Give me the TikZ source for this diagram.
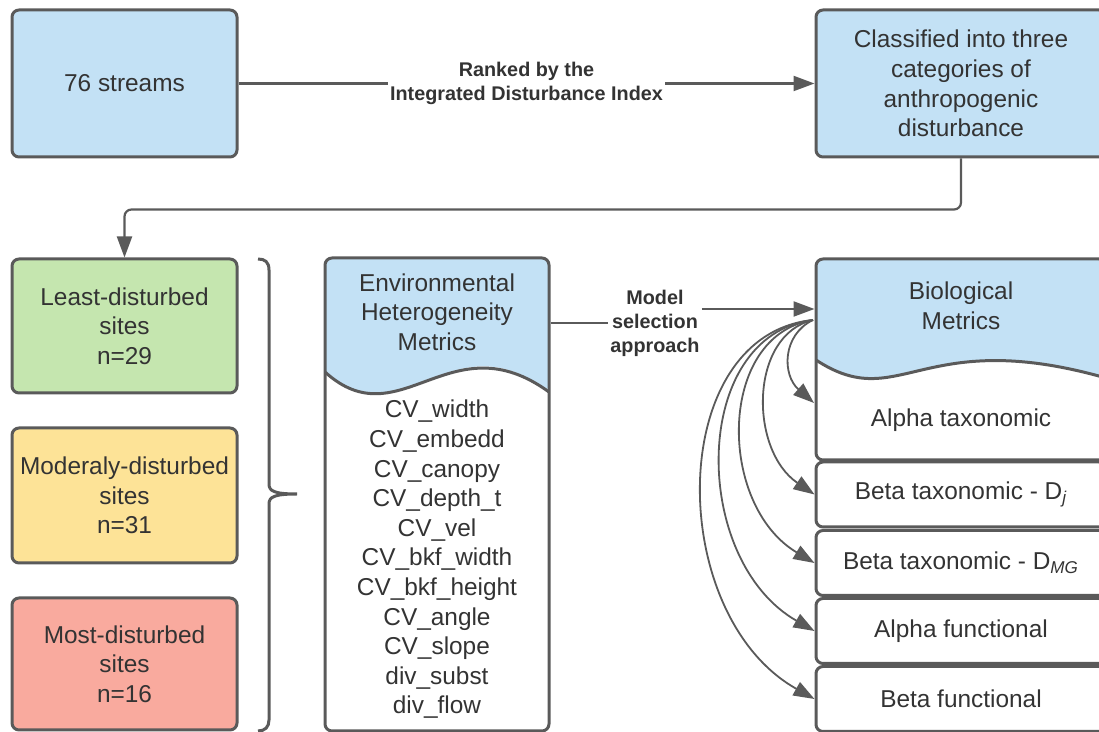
\documentclass[tikz,border=0pt]{standalone}
\usepackage{fontspec}
\setmainfont{Liberation Sans}
\usetikzlibrary{arrows.meta}
\definecolor{boxblue}{RGB}{195,225,245}
\definecolor{boxgreen}{RGB}{197,230,175}
\definecolor{boxyellow}{RGB}{253,227,151}
\definecolor{boxred}{RGB}{249,170,158}
\definecolor{edge}{RGB}{90,90,90}
\definecolor{ink}{RGB}{51,51,51}

\begin{document}
\begin{tikzpicture}[x=0.5pt, y=-0.5pt,
  box/.style={draw=edge, line width=1.5pt, rounded corners=3.5pt, text=ink, align=center, inner sep=0pt, font=\fontsize{12.2}{14.8}\selectfont},
  txt/.style={text=ink, align=center, inner sep=0pt, font=\fontsize{12.2}{14.8}\selectfont},
  lbl/.style={text=ink, align=center, inner sep=1pt, font=\fontsize{9.9}{12}\selectfont\bfseries},
  arr/.style={draw=edge, line width=1.1pt, -{Triangle[length=10.5pt, width=7.5pt]}},
  fan/.style={draw=edge, line width=0.9pt, -{Triangle[length=10.5pt, width=7.5pt]}}]
\clip (0,0) rectangle (1099,732);

% top row
\node[box, fill=boxblue, minimum width=112.5pt, minimum height=73.5pt] (streams) at (124.5,83.5) {76 streams};
\node[box, fill=boxblue, minimum width=145pt, minimum height=73.5pt] (classes) at (961,83.5) {Classified into three\\categories of\\anthropogenic\\disturbance};
\draw[arr] (streams) -- node[lbl, fill=white] {Ranked by the\\Integrated Disturbance Index} (classes);

% site categories
\node[box, fill=boxgreen, minimum width=112.5pt, minimum height=67pt] (least) at (124.5,326) {Least-disturbed\\sites\\n=29};
\node[box, fill=boxyellow, minimum width=112.5pt, minimum height=67.5pt] (moder) at (124.5,495.5) {Moderaly-disturbed\\sites\\n=31};
\node[box, fill=boxred, minimum width=112.5pt, minimum height=66pt] (most) at (124.5,664) {Most-disturbed\\sites\\n=16};
\draw[arr, rounded corners=3.5pt] (classes.south) -- ++(0,51) -| (least.north);

\draw[edge, line width=1.5pt] (258,259) .. controls (265,259) and (269,262) .. (269,270) -- (269,484)
  .. controls (269,491) and (274,494) .. (297,494) .. controls (274,494) and (269,497) .. (269,504)
  -- (269,720) .. controls (269,727) and (265,731) .. (258,731);

% environmental metrics
\fill[boxblue, rounded corners=3.5pt] (325,372) |- (549,258) -- (549,392) [sharp corners] .. controls (450,320) and (400,440) .. (325,372);
\draw[edge, line width=1.5pt] (325,372) .. controls (400,440) and (450,320) .. (549,392);
\node[box, minimum width=112pt, minimum height=236.5pt] (envm) at (437,494.5) {};
\node[txt] (envhead) at (437,312) {Environmental\\Heterogeneity\\Metrics};
\node[txt] (envlist) at (437,559.5) {CV\_width\\CV\_embedd\\CV\_canopy\\CV\_depth\_t\\CV\_vel\\CV\_bkf\_width\\CV\_bkf\_height\\CV\_angle\\CV\_slope\\div\_subst\\div\_flow};

% biological metrics
\fill[boxblue, rounded corners=3.5pt] (816,360) |- (1106,259) -- (1106,378) [sharp corners] .. controls (920,325) and (900,415) .. (816,360);
\draw[edge, line width=1.5pt] (816,360) .. controls (900,415) and (920,325) .. (1106,378);
\node[box, minimum width=145pt, minimum height=100.5pt] (biom) at (961,359.5) {};
\node[txt] (biohead) at (961,305.5) {Biological\\Metrics};
\node[txt] (alphatax) at (961,420) {Alpha taxonomic};
\node[box, minimum width=145pt, minimum height=32.5pt] (betatax) at (961,494.5) {Beta taxonomic - D\textsubscript{\itshape j}};
\node[box, minimum width=145pt, minimum height=32.5pt] (betamg) at (961,563) {Beta taxonomic - D\textsubscript{\itshape MG}};
\node[box, minimum width=145pt, minimum height=32.5pt] (alphafun) at (961,631) {Alpha functional};
\node[box, minimum width=145pt, minimum height=32.5pt] (betafun) at (961,699) {Beta functional};

\node[lbl] (msa) at (655,323) {Model\\selection\\approach};
\draw[edge, line width=1.1pt] (envm.east |- msa) -- (msa);
\draw[arr] ([yshift=7pt]msa.east) -- ([yshift=7pt]msa.east -| biom.west);

\coordinate (fan) at (813,320);
\coordinate (atin) at (814,403);
\foreach \t/\cx/\cy in {atin/782/375, betatax.west/749/450, betamg.west/717/505, alphafun.west/690/560, betafun.west/665/615}
  \draw[fan] (fan) .. controls (\cx,335) and (\cx,\cy) .. (\t);
\end{tikzpicture}
\end{document}
